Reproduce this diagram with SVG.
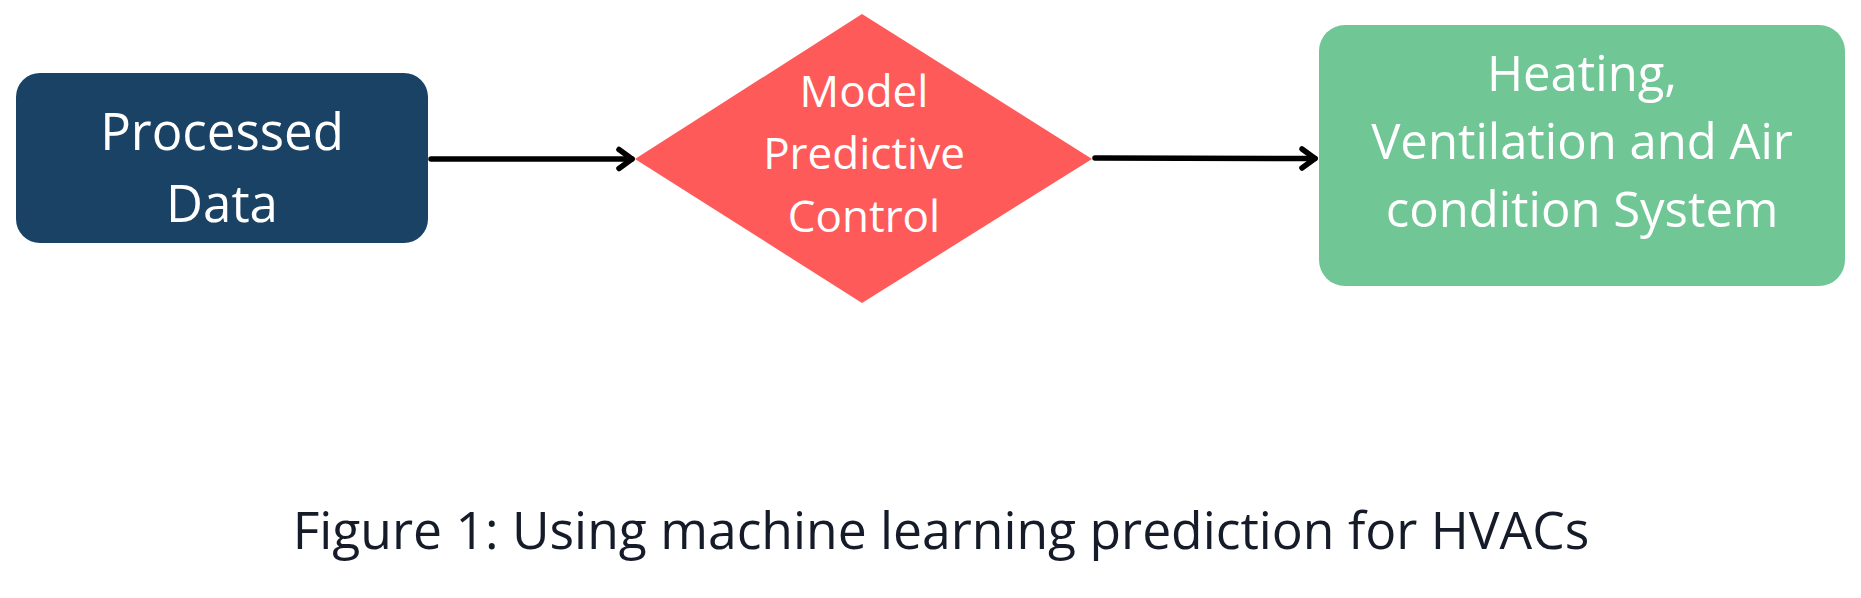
<svg xmlns="http://www.w3.org/2000/svg" width="1861" height="598" viewBox="0 0 1861 598">
<defs>
<style>
.lbl{font-family:"Open Sans","Noto Sans",sans-serif;fill:#ffffff;text-anchor:middle}
.cap{font-family:"Open Sans","Noto Sans",sans-serif;fill:#151b29;text-anchor:middle;font-size:51.6px}
.conn{stroke:#000;stroke-width:5.5;fill:none;stroke-linecap:round}
</style>
<marker id="arr" markerWidth="30" markerHeight="30" viewBox="-20 -15 30 30" refX="0" refY="0" orient="auto" markerUnits="userSpaceOnUse">
<path d="M-13,-9.5 L0,0 L-13,9.5" fill="none" stroke="#000" stroke-width="5.5" stroke-linecap="round" stroke-linejoin="round"/>
</marker>
</defs>
<rect width="1861" height="598" fill="#ffffff"/>
<g id="connectors">
<line class="conn" x1="431" y1="159" x2="632" y2="159" marker-end="url(#arr)"/>
<line class="conn" x1="1095" y1="158" x2="1315" y2="158.5" marker-end="url(#arr)"/>
</g>
<g id="processed-data">
<rect x="16" y="73" width="412" height="170" rx="24" fill="#1a4264"/>
<text class="lbl" font-size="51" x="222" y="150">Processed</text>
<text class="lbl" font-size="51" x="222" y="222">Data</text>
</g>
<g id="mpc">
<polygon points="862,14 1092,159 862,303 635,159" fill="#ff5a5a"/>
<text class="lbl" font-size="44" x="864" y="107">Model</text>
<text class="lbl" font-size="44" x="864" y="169">Predictive</text>
<text class="lbl" font-size="44" x="864" y="232">Control</text>
</g>
<g id="hvac">
<rect x="1319" y="25" width="526" height="261" rx="26" fill="#70c695"/>
<text class="lbl" font-size="49" x="1582" y="91">Heating,</text>
<text class="lbl" font-size="49" x="1582" y="159">Ventilation and Air</text>
<text class="lbl" font-size="49" x="1582" y="227">condition System</text>
</g>
<text class="cap" x="941" y="549">Figure 1: Using machine learning prediction for HVACs</text>
</svg>
